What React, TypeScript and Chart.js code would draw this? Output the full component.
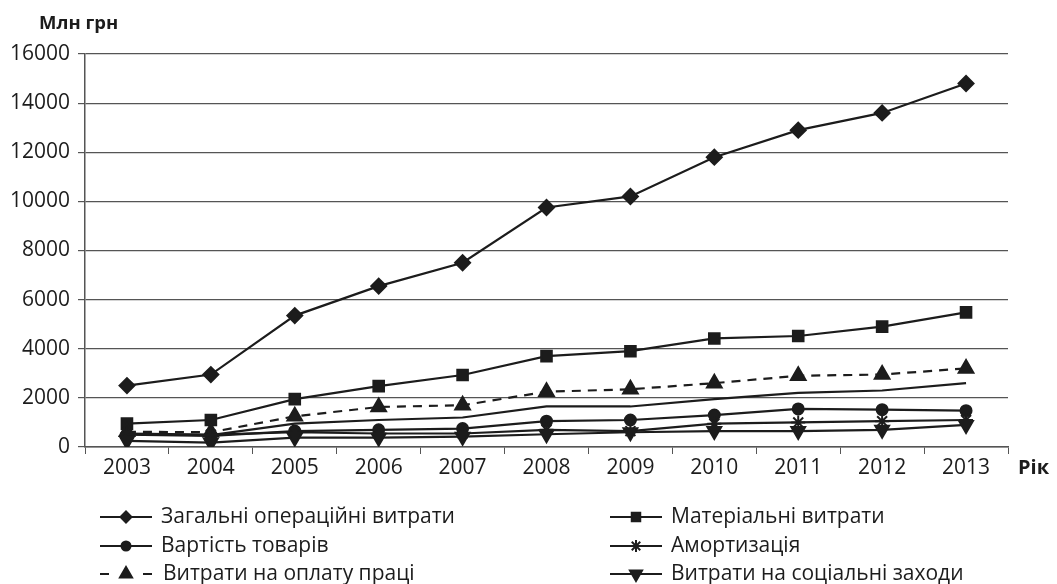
import React, { useEffect, useRef } from 'react';
import { Chart, registerables } from 'chart.js';
import { drawPoint } from 'chart.js/helpers';

Chart.register(...registerables);

const years = ['2003', '2004', '2005', '2006', '2007', '2008', '2009', '2010', '2011', '2012', '2013'];
const totalOps = [2500, 2950, 5350, 6550, 7500, 9750, 10200, 11800, 12900, 13600, 14800];
const materials = [950, 1100, 1950, 2480, 2930, 3700, 3900, 4420, 4520, 4900, 5480];
const goodsCost = [500, 450, 650, 700, 750, 1050, 1100, 1300, 1550, 1520, 1480];
const amortization = [550, 500, 600, 550, 550, 700, 650, 950, 1000, 1050, 1100];
const labor = [620, 600, 1250, 1630, 1700, 2250, 2350, 2600, 2900, 2950, 3200];
const social = [250, 180, 380, 380, 420, 520, 600, 650, 650, 700, 900];
const other = [520, 480, 950, 1100, 1200, 1650, 1650, 1950, 2200, 2300, 2600];
const yTicks = [0, 2000, 4000, 6000, 8000, 10000, 12000, 14000, 16000];

const INK = '#1c1c1c';
const FONT = '"Open Sans", sans-serif';

type Item = { label: string; style: string; rot: number; r: number; dash: boolean; col: number; row: number };
const legendItems: Item[] = [
  { label: 'Загальні операційні витрати', style: 'rectRot', rot: 0, r: 5.5, dash: false, col: 0, row: 0 },
  { label: 'Матеріальні витрати', style: 'rect', rot: 0, r: 6, dash: false, col: 1, row: 0 },
  { label: 'Вартість товарів', style: 'circle', rot: 0, r: 4.5, dash: false, col: 0, row: 1 },
  { label: 'Амортизація', style: 'star', rot: 0, r: 6, dash: false, col: 1, row: 1 },
  { label: 'Витрати на оплату праці', style: 'triangle', rot: 0, r: 7, dash: true, col: 0, row: 2 },
  { label: 'Витрати на соціальні заходи', style: 'triangle', rot: 180, r: 7, dash: false, col: 1, row: 2 },
];

const extrasPlugin = {
  id: 'extras',
  afterDraw(chart: any) {
    const ctx = chart.ctx;
    ctx.save();
    ctx.fillStyle = INK;
    ctx.textBaseline = 'middle';
    ctx.textAlign = 'left';
    ctx.font = `bold 18.5px ${FONT}`;
    ctx.fillText('Млн грн', 39, 24);
    ctx.font = `bold 20px ${FONT}`;
    ctx.fillText('Рік', 1018, 468);

    const colX = [100, 610];
    const rowY = [517, 546, 574];
    ctx.font = `21px ${FONT}`;
    legendItems.forEach((it) => {
      const x0 = colX[it.col];
      const y = rowY[it.row];
      ctx.strokeStyle = INK;
      ctx.fillStyle = INK;
      ctx.lineWidth = 2;
      ctx.beginPath();
      if (it.dash) {
        ctx.moveTo(x0, y); ctx.lineTo(x0 + 9, y);
        ctx.moveTo(x0 + 43, y); ctx.lineTo(x0 + 52, y);
      } else {
        ctx.moveTo(x0, y); ctx.lineTo(x0 + 52, y);
      }
      ctx.stroke();
      drawPoint(ctx, { pointStyle: it.style, rotation: it.rot, radius: it.r, borderWidth: 2 }, x0 + 26, y);
      ctx.fillStyle = INK;
      ctx.fillText(it.label, x0 + (it.dash ? 63 : 61), y);
    });
    ctx.restore();
  },
};

function ds(label: string, data: number[], style: any, radius: number, extra: any = {}) {
  return {
    label,
    data,
    borderColor: INK,
    backgroundColor: INK,
    borderWidth: 2.2,
    pointStyle: style,
    pointRadius: radius,
    pointBorderWidth: 2,
    pointBackgroundColor: INK,
    pointBorderColor: INK,
    tension: 0,
    ...extra,
  };
}

export default function App() {
  const ref = useRef<HTMLCanvasElement | null>(null);
  useEffect(() => {
    if (!ref.current) return;
    const chart = new Chart(ref.current, {
      type: 'line',
      data: {
        labels: years,
        datasets: [
          ds('Інші', other, false, 0),
          ds('Витрати на соціальні заходи', social, 'triangle', 8, { pointRotation: 180 }),
          ds('Амортизація', amortization, 'star', 7),
          ds('Вартість товарів', goodsCost, 'circle', 5.5),
          ds('Витрати на оплату праці', labor, 'triangle', 8.5, { borderDash: [9, 7] }),
          ds('Матеріальні витрати', materials, 'rect', 7.5),
          ds('Загальні операційні витрати', totalOps, 'rectRot', 7.5),
        ],
      },
      options: {
        animation: false,
        responsive: false,
        layout: { padding: { top: 54, right: 49, bottom: 102, left: 0 } },
        plugins: { legend: { display: false }, tooltip: { enabled: false } },
        scales: {
          x: {
            offset: true,
            grid: { drawOnChartArea: false, drawTicks: true, tickLength: 7, offset: true, color: '#555' },
            border: { color: '#555', width: 1.5 },
            ticks: { color: INK, font: { family: FONT, size: 21 }, padding: 1 },
            afterFit: (s: any) => { s.height = 35; },
          },
          y: {
            min: 0,
            max: 16000,
            afterBuildTicks: (s: any) => { s.ticks = yTicks.map((v) => ({ value: v })); },
            grid: { color: '#555', lineWidth: 1.2, tickLength: 7 },
            border: { color: '#555', width: 1.5 },
            ticks: { color: INK, font: { family: FONT, size: 21 }, padding: 8, callback: (v: any) => String(v) },
            afterFit: (s: any) => { s.width = 85; },
          },
        },
      },
      plugins: [extrasPlugin],
    });
    return () => chart.destroy();
  }, []);
  return (
    <div style={{ position: 'fixed', left: 0, top: 0, width: 1057, height: 584, background: '#fff' }}>
      <canvas ref={ref} width={1057} height={584} style={{ width: 1057, height: 584 }} />
    </div>
  );
}
